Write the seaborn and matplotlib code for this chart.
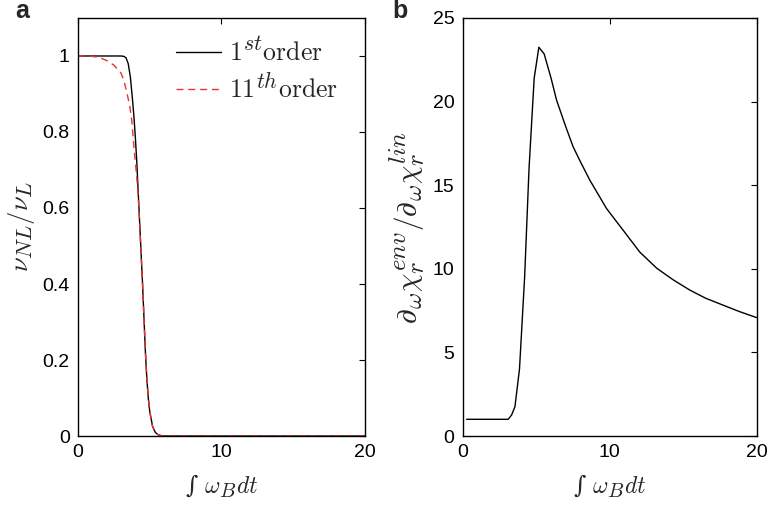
import numpy as np
import pandas as pd
import matplotlib
matplotlib.use("Agg")
import matplotlib.pyplot as plt
import matplotlib._mathtext as _mt
import seaborn as sns

# ---- data ----
x_first = [0, 1, 2, 2.8, 3.0, 3.2, 3.35, 3.5, 3.65, 3.8, 3.9, 4.0, 4.1, 4.2, 4.3, 4.4,
           4.5, 4.6, 4.7, 4.8, 4.9, 5.0, 5.2, 5.4, 5.6, 5.8, 6, 8, 10, 12, 14, 16, 18, 20]
y_first = [1.0, 1.0, 1.0, 1.0, 1.0, 0.999, 0.995, 0.98, 0.945, 0.885, 0.84, 0.785, 0.72,
           0.64, 0.56, 0.48, 0.40, 0.31, 0.22, 0.15, 0.10, 0.065, 0.025, 0.009, 0.003,
           0.001, 0.0, 0.0, 0.0, 0.0, 0.0, 0.0, 0.0, 0.0]

x_11th = [0, 0.5, 1.0, 1.5, 2.0, 2.5, 3.0, 3.2, 3.4, 3.6, 3.75, 3.9, 4.0, 4.1, 4.2, 4.3,
          4.4, 4.5, 4.6, 4.7, 4.8, 4.9, 5.0, 5.2, 5.4, 5.6, 5.8, 6, 8, 10, 12, 14, 16, 18, 20]
y_11th = [1.0, 1.0, 0.999, 0.996, 0.988, 0.976, 0.955, 0.935, 0.905, 0.87, 0.83, 0.76,
          0.72, 0.68, 0.63, 0.56, 0.48, 0.40, 0.31, 0.22, 0.15, 0.10, 0.065, 0.025, 0.009,
          0.003, 0.001, 0.0, 0.0, 0.0, 0.0, 0.0, 0.0, 0.0, 0.0]

x_ratio = [0.25, 1.0, 2.0, 3.08, 3.31, 3.54, 3.85, 4.2, 4.5, 4.85, 5.17, 5.53, 6.0, 6.37,
           7.0, 7.5, 8.0, 8.64, 9.78, 11.0, 12.04, 13.2, 14.3, 15.44, 16.5, 17.7, 18.8, 20.0]
y_ratio = [1.0, 1.0, 1.0, 1.0, 1.25, 1.75, 4.0, 9.5, 16.0, 21.4, 23.25, 22.85, 21.4, 20.1,
           18.5, 17.3, 16.4, 15.3, 13.6, 12.2, 11.0, 10.03, 9.35, 8.73, 8.25, 7.83, 7.45, 7.08]

label_first = r'$1^{st}\mathrm{order}$'
label_11th = r'$11^{th}\mathrm{order}$'

# larger sub/superscripts, like the TeX rendering of the reference
_mt.SHRINK_FACTOR = 0.85

sns.set_style("white")
plt.rcParams['font.family'] = ['Liberation Sans', 'DejaVu Sans']
plt.rcParams['mathtext.fontset'] = 'cm'

fig = plt.figure(figsize=(7.69, 5.08), dpi=100)
ax1 = fig.add_axes([0.1014, 0.1417, 0.3732, 0.8229])
ax2 = fig.add_axes([0.602, 0.1417, 0.382, 0.8229])

df1 = pd.DataFrame({"x": x_first, "y": y_first})
df2 = pd.DataFrame({"x": x_11th, "y": y_11th})
df3 = pd.DataFrame({"x": x_ratio, "y": y_ratio})

sns.lineplot(data=df1, x="x", y="y", ax=ax1, color="black", lw=1.0, label=label_first,
             sort=False, estimator=None)
sns.lineplot(data=df2, x="x", y="y", ax=ax1, color="#e8322a", lw=1.0, ls=(0, (5, 3.5)),
             label=label_11th, sort=False, estimator=None)
sns.lineplot(data=df3, x="x", y="y", ax=ax2, color="black", lw=1.0, sort=False, estimator=None)

ax1.set_xlim(0, 20)
ax1.set_ylim(0, 1.1)
ax1.set_xticks([0, 10, 20])
ax1.set_yticks([0, 0.2, 0.4, 0.6, 0.8, 1.0])
ax1.set_yticklabels(["0", "0.2", "0.4", "0.6", "0.8", "1"])

ax2.set_xlim(0, 20)
ax2.set_ylim(0, 25)
ax2.set_xticks([0, 10, 20])
ax2.set_yticks([0, 5, 10, 15, 20, 25])

for ax in (ax1, ax2):
    for s in ax.spines.values():
        s.set_visible(True)
        s.set_color("black")
        s.set_linewidth(1.0)
    ax.tick_params(direction="in", length=4, width=0.8, top=True, right=True,
                   labelsize=14, pad=6, colors="black")
    ax.set_xlabel('\u222b $\\omega_B dt$', fontsize=17, labelpad=8,
                  family=['DejaVu Serif', 'DejaVu Sans'])

ax1.set_ylabel(r'$\nu_{NL}/\nu_L$', fontsize=19, labelpad=4)
ax2.set_ylabel(r'$\partial_\omega\chi_r^{env}/\partial_\omega\chi_r^{lin}$', fontsize=21, labelpad=4)

leg = ax1.legend(loc="upper right", frameon=False, fontsize=18.5, handlelength=1.75,
                 handletextpad=0.3, borderaxespad=0.2, labelspacing=0.25,
                 bbox_to_anchor=(0.96, 0.992))

fig.text(0.0195, 1 - 18 / 508, "a", fontsize=18, fontweight="bold", va="baseline", ha="left")
fig.text(0.51, 1 - 18 / 508, "b", fontsize=18, fontweight="bold", va="baseline", ha="left")

fig.savefig("out.png", dpi=100)
